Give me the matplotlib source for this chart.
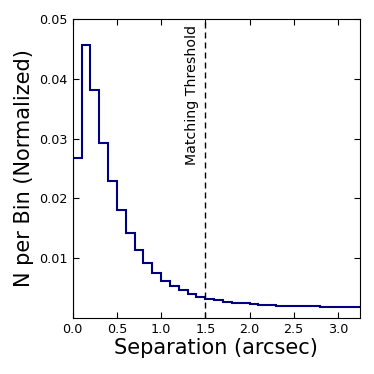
import numpy as np
import matplotlib
matplotlib.use("Agg")
import matplotlib.pyplot as plt

# Bin edges (arcsec) and normalized counts per bin
bin_edges = np.round(np.arange(0, 3.31, 0.1), 2)
counts = [0.0268, 0.0457, 0.0381, 0.0293, 0.0229, 0.0180, 0.0142, 0.0113,
          0.0091, 0.0075, 0.0062, 0.0053, 0.0046, 0.0040, 0.0035, 0.0032,
          0.0029, 0.0027, 0.0025, 0.0024, 0.0023, 0.0022, 0.0021, 0.0020,
          0.0020, 0.0019, 0.0019, 0.0019, 0.0018, 0.0018, 0.0018, 0.0018,
          0.0018]
threshold = 1.5

fig = plt.figure(figsize=(3.74, 3.74), dpi=100)
ax = fig.add_axes([0.1944, 0.1505, 0.7682, 0.7979])

ax.stairs(counts, bin_edges, color='navy', linewidth=1.5, baseline=0)
ax.axvline(threshold, color='black', linestyle='--', linewidth=1.0,
           dashes=(4.3, 2.9))
ax.text(threshold - 0.07, 0.0490, 'Matching Threshold', rotation=90,
        ha='right', va='top', fontsize=10.2)

ax.set_xlim(0, 3.25)
ax.set_ylim(0, 0.05)
ax.set_xticks([0.0, 0.5, 1.0, 1.5, 2.0, 2.5, 3.0])
ax.set_xticklabels(['0.0', '0.5', '1.0', '1.5', '2.0', '2.5', '3.0'])
ax.set_yticks([0.01, 0.02, 0.03, 0.04, 0.05])
ax.set_yticklabels(['0.01', '0.02', '0.03', '0.04', '0.05'])
ax.tick_params(direction='in', top=True, right=True, labelsize=9.2, length=4.5)
ax.set_xlabel('Separation (arcsec)', fontsize=15, labelpad=2)
ax.set_ylabel('N per Bin (Normalized)', fontsize=15, labelpad=4)

fig.savefig('out.png', dpi=100)
